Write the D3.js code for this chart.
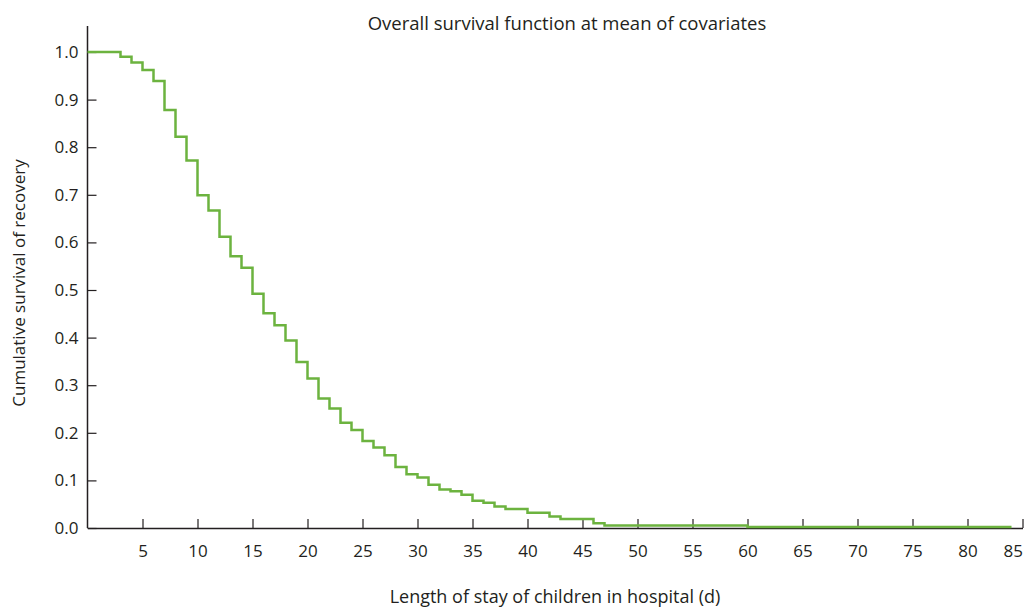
<!DOCTYPE html>
<html>
<head>
<meta charset="utf-8">
<script src="https://cdn.jsdelivr.net/npm/d3@7"></script>
<style>
  body { margin: 0; background: #fff; }
  text { font-family: "Open Sans", "Noto Sans", sans-serif; fill: #231f20; }
</style>
</head>
<body>
<div id="chart-area"></div>
<script>
// step times (days) and survival
const days = [0, 3, 4, 5, 6, 7, 8, 9, 10, 11, 12, 13, 14, 15, 16, 17, 18, 19, 20,
  21, 22, 23, 24, 25, 26, 27, 28, 29, 30, 31, 32, 33, 34, 35, 36, 37, 38, 40,
  42, 43, 46, 47, 60, 84]
const survival = [1.0, 0.990, 0.978, 0.962, 0.939, 0.878, 0.822, 0.772, 0.699, 0.667,
  0.612, 0.571, 0.547, 0.492, 0.451, 0.426, 0.394, 0.349, 0.314, 0.272, 0.251,
  0.221, 0.206, 0.183, 0.169, 0.153, 0.128, 0.113, 0.106, 0.091, 0.081, 0.077,
  0.070, 0.057, 0.053, 0.045, 0.040, 0.032, 0.024, 0.019, 0.010, 0.005, 0.002, 0.002]
const xTicks = [5, 10, 15, 20, 25, 30, 35, 40, 45, 50, 55, 60, 65, 70, 75, 80, 85]
const yTicks = [0, 0.1, 0.2, 0.3, 0.4, 0.5, 0.6, 0.7, 0.8, 0.9, 1.0]

const data = days.map((d, i) => ({ t: d, s: survival[i] }))

const svg = d3.select("#chart-area").append("svg")
  .attr("width", 1030)
  .attr("height", 609)

const x = d3.scaleLinear().domain([0, 85]).range([87.5, 1022.5])
const y = d3.scaleLinear().domain([0, 1]).range([528, 52])

// x axis, ticks pointing up
const xAxis = svg.append("g")
  .attr("transform", "translate(0,528)")
  .call(d3.axisBottom(x).tickValues(xTicks).tickSizeInner(-9).tickSizeOuter(0))
xAxis.select(".domain").attr("stroke", "#231f20").attr("stroke-width", 1.5)
xAxis.selectAll(".tick line").attr("stroke", "#231f20").attr("stroke-width", 1.2)
xAxis.selectAll("text")
  .attr("y", 17)
  .attr("font-size", 17)
  .style("fill", "#231f20")
  .attr("text-anchor", d => d === 85 ? "end" : "middle")

// y axis, ticks pointing right
const yAxis = svg.append("g")
  .attr("transform", "translate(87.5,0)")
  .call(d3.axisLeft(y).tickValues(yTicks).tickFormat(d3.format(".1f"))
    .tickSizeInner(-9).tickSizeOuter(0))
yAxis.select(".domain").attr("stroke", "#231f20").attr("stroke-width", 1.5)
  .attr("d", "M0,26V528")
yAxis.selectAll(".tick line").attr("stroke", "#231f20").attr("stroke-width", 1.2)
yAxis.selectAll("text")
  .attr("x", -9)
  .attr("font-size", 17)
  .style("fill", "#231f20")

const line = d3.line()
  .x(d => x(d.t))
  .y(d => y(d.s))
  .curve(d3.curveStepAfter)

svg.append("path")
  .datum(data)
  .attr("fill", "none")
  .attr("stroke", "#6cb33f")
  .attr("stroke-width", 2.5)
  .attr("d", line)

svg.append("text")
  .attr("x", 567)
  .attr("y", 30)
  .attr("text-anchor", "middle")
  .attr("font-size", 18.5)
  .text("Overall survival function at mean of covariates")

svg.append("text")
  .attr("x", 555)
  .attr("y", 603)
  .attr("text-anchor", "middle")
  .attr("font-size", 18)
  .text("Length of stay of children in hospital (d)")

svg.append("text")
  .attr("transform", "translate(25,283) rotate(-90)")
  .attr("text-anchor", "middle")
  .attr("font-size", 17)
  .text("Cumulative survival of recovery")
</script>
</body>
</html>
